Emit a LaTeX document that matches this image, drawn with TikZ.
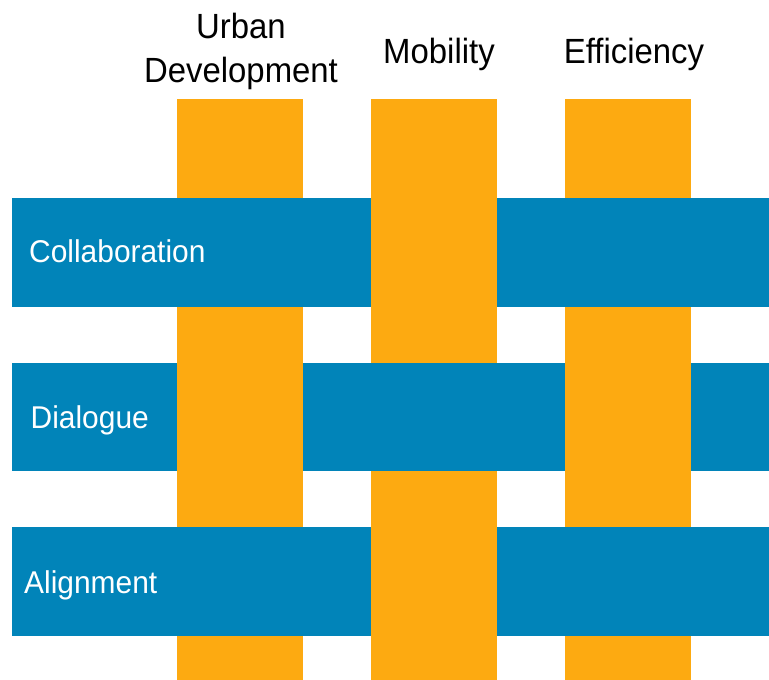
\documentclass[tikz,border=0pt]{standalone}
\usepackage{fontspec}
\setmainfont{Liberation Sans}
\newfontfamily\headfont[FakeStretch=0.94]{Liberation Sans}
\newfontfamily\rowfont[FakeStretch=0.95]{Liberation Sans}
\definecolor{weaveorange}{RGB}{253,170,17}
\definecolor{weaveblue}{RGB}{1,132,185}
\tikzset{
  warp/.style={fill=weaveorange, draw=none},
  weft/.style={fill=weaveblue, draw=none},
  heading/.style={inner sep=0pt, text=black, font=\headfont\fontsize{35}{44}\selectfont, align=center},
  rowlabel/.style={inner sep=0pt, text=white, font=\rowfont\fontsize{31.5}{38}\selectfont, anchor=base west}
}
\begin{document}
\begin{tikzpicture}[x=1pt,y=-1pt]
  \useasboundingbox (0,0) rectangle (769,680);
  % vertical orange strips (warp)
  \fill[warp] (177,98.5) rectangle (303,680);
  \fill[warp] (371,98.5) rectangle (497,680);
  \fill[warp] (565,98.5) rectangle (691,680);
  % horizontal blue strips (weft)
  \fill[weft] (11.7,198) rectangle (769,307);
  \fill[weft] (11.7,362.5) rectangle (769,471);
  \fill[weft] (11.7,527) rectangle (769,636);
  % crossings where the warp passes over the weft
  \fill[warp] (177,362.5) rectangle (303,471);
  \fill[warp] (371,198) rectangle (497,307);
  \fill[warp] (371,527) rectangle (497,636);
  \fill[warp] (565,362.5) rectangle (691,471);
  % column headings
  \node[heading, anchor=north] (urban) at (241,12.6) {Urban\\Development};
  \node[heading, anchor=base] (mobility) at (439,63.3) {Mobility};
  \node[heading, anchor=base] (efficiency) at (634,63.3) {Efficiency};
  % row labels
  \node[rowlabel] (collab) at (29,262.3) {Collaboration};
  \node[rowlabel] (dialogue) at (30.5,428.3) {Dialogue};
  \node[rowlabel] (align) at (24,593.3) {Alignment};
\end{tikzpicture}
\end{document}
